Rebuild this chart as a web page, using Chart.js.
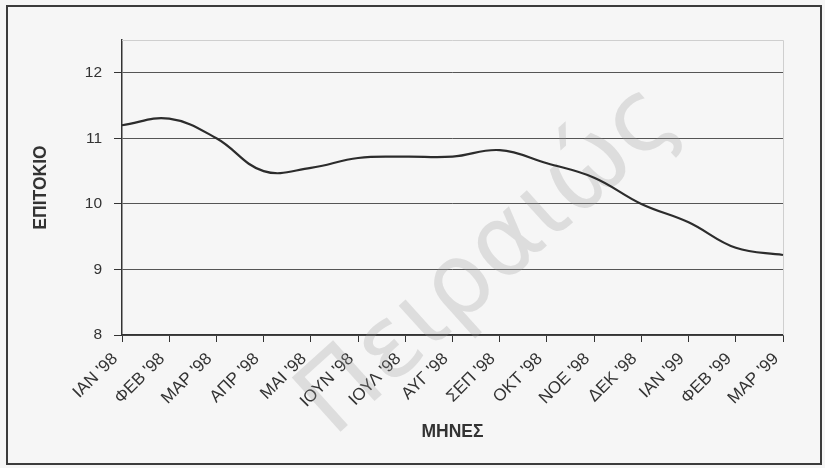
<!DOCTYPE html>
<html>
<head>
<meta charset="utf-8">
<script src="https://cdn.jsdelivr.net/npm/chart.js@4.4.1/dist/chart.umd.min.js"></script>
<style>
  html, body { margin: 0; padding: 0; background: #f6f6f6; }
  #wrap { position: relative; width: 825px; height: 468px; }
  canvas { display: block; }
</style>
</head>
<body>
<div id="wrap"><canvas id="c" width="825" height="468"></canvas></div>
<script>
// Monthly interest rate, Jan 1998 - Mar 1999
const months = ["ΙΑΝ '98", "ΦΕΒ '98", "ΜΑΡ '98", "ΑΠΡ '98", "ΜΑΙ '98", "ΙΟΥΝ '98", "ΙΟΥΛ '98",
                "ΑΥΓ '98", "ΣΕΠ '98", "ΟΚΤ '98", "ΝΟΕ '98", "ΔΕΚ '98", "ΙΑΝ '99", "ΦΕΒ '99", "ΜΑΡ '99"];
const rates = [11.2, 11.3, 11.0, 10.5, 10.55, 10.7, 10.72, 10.72, 10.82, 10.62, 10.4, 10.0, 9.72, 9.33, 9.22];
const yTicks = [8, 9, 10, 11, 12];
const yMin = 8;
const yMax = 12.5;

const FONT = "'Liberation Sans', Arial, sans-serif";
const INK = '#333333';

// Outer frame, light plot-area edges and the faint diagonal watermark
const decor = {
  id: 'decor',
  beforeDatasetsDraw(chart) {
    const { ctx, chartArea: a } = chart;
    ctx.save();
    ctx.strokeStyle = '#cfcfcf';
    ctx.lineWidth = 1;
    ctx.beginPath();
    ctx.moveTo(a.left, a.top + 0.5);
    ctx.lineTo(a.right + 0.5, a.top + 0.5);
    ctx.lineTo(a.right + 0.5, a.bottom);
    ctx.stroke();

    ctx.translate(490, 262);
    ctx.rotate(-42 * Math.PI / 180);
    ctx.font = "100px 'DejaVu Sans', sans-serif";
    ctx.fillStyle = 'rgba(150,150,150,0.26)';
    ctx.textAlign = 'center';
    ctx.textBaseline = 'middle';
    ctx.fillText('Πειραιώς', 0, 0);
    ctx.restore();
  },
  afterDraw(chart) {
    const { ctx } = chart;
    ctx.save();
    ctx.strokeStyle = '#3c3c3c';
    ctx.lineWidth = 2;
    ctx.strokeRect(7, 6, 814, 458);
    ctx.restore();
  }
};

new Chart(document.getElementById('c'), {
  type: 'line',
  data: {
    labels: months,
    datasets: [{
      data: rates,
      borderColor: '#2c2c2c',
      borderWidth: 2.2,
      tension: 0.4,
      pointRadius: 0,
      fill: false
    }]
  },
  options: {
    responsive: false,
    animation: false,
    devicePixelRatio: 1,
    layout: { padding: { left: 31, right: 42, top: 40, bottom: 23 } },
    plugins: { legend: { display: false }, tooltip: { enabled: false } },
    scales: {
      x: {
        offset: false,
        afterFit: s => { s.height = 468 - 335 - 23; },
        grid: { drawOnChartArea: false, drawTicks: true, tickLength: 7, color: INK },
        border: { color: INK, width: 1.5 },
        ticks: {
          autoSkip: false, maxRotation: 45, minRotation: 45,
          font: { family: FONT, size: 17 }, color: INK, padding: 7, labelOffset: -7
        },
        title: {
          display: true, text: 'ΜΗΝΕΣ', color: INK,
          font: { family: FONT, size: 17.5, weight: 'bold' },
          padding: { top: 4, bottom: 2 }
        }
      },
      y: {
        min: yMin,
        max: yMax,
        afterBuildTicks: s => { s.ticks = yTicks.map(v => ({ value: v })); },
        afterFit: s => { s.width = 91; },
        grid: { color: '#555555', lineWidth: 1, tickLength: 8, tickColor: INK },
        border: { color: INK, width: 1.5 },
        ticks: { font: { family: FONT, size: 15.5 }, color: INK, padding: 12 },
        title: {
          display: true, text: 'ΕΠΙΤΟΚΙΟ', color: INK,
          font: { family: FONT, size: 17.5, weight: 'bold' },
          padding: { top: 0, bottom: 2 }
        }
      }
    }
  },
  plugins: [decor]
});
</script>
</body>
</html>
